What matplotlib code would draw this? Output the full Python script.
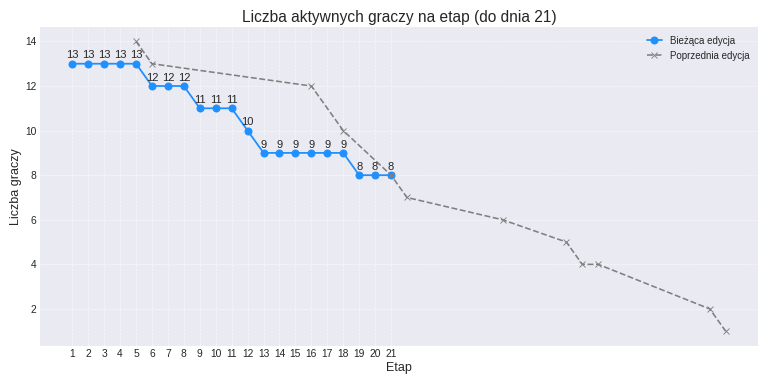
import matplotlib
matplotlib.use('Agg')
import matplotlib.pyplot as plt

plt.style.use('seaborn-v0_8-darkgrid')
plt.rcParams['font.family'] = ['Liberation Sans', 'DejaVu Sans']

# biezaca edycja
etapy = list(range(1, 22))
gracze = [13, 13, 13, 13, 13, 12, 12, 12, 11, 11, 11, 10,
          9, 9, 9, 9, 9, 9, 8, 8, 8]

# poprzednia edycja
etapy_prev = [5, 6, 16, 18, 21, 22, 28, 32, 33, 34, 41, 42]
gracze_prev = [14, 13, 12, 10, 8, 7, 6, 5, 4, 4, 2, 1]

fig, ax = plt.subplots(figsize=(12, 6), dpi=64)

ax.plot(etapy, gracze, marker='o', color='dodgerblue', linewidth=2,
        markersize=8, label='Bieżąca edycja')
ax.plot(etapy_prev, gracze_prev, marker='x', linestyle='--', color='gray',
        linewidth=1.8, markersize=7, label='Poprzednia edycja')

for x, y in zip(etapy, gracze):
    ax.annotate(str(y), (x, y), textcoords='offset points', xytext=(0, 6),
                ha='center', fontsize=12.5)

ax.set_title('Liczba aktywnych graczy na etap (do dnia 21)', fontsize=17.5)
ax.set_xlabel('Etap', fontsize=14)
ax.set_ylabel('Liczba graczy', fontsize=14)
ax.set_xticks(etapy)
ax.tick_params(labelsize=11.5)
ax.grid(True, linestyle='--', alpha=0.7)
ax.legend(fontsize=11, handlelength=1.6)

plt.tight_layout()
plt.savefig('out.png', dpi=64)
